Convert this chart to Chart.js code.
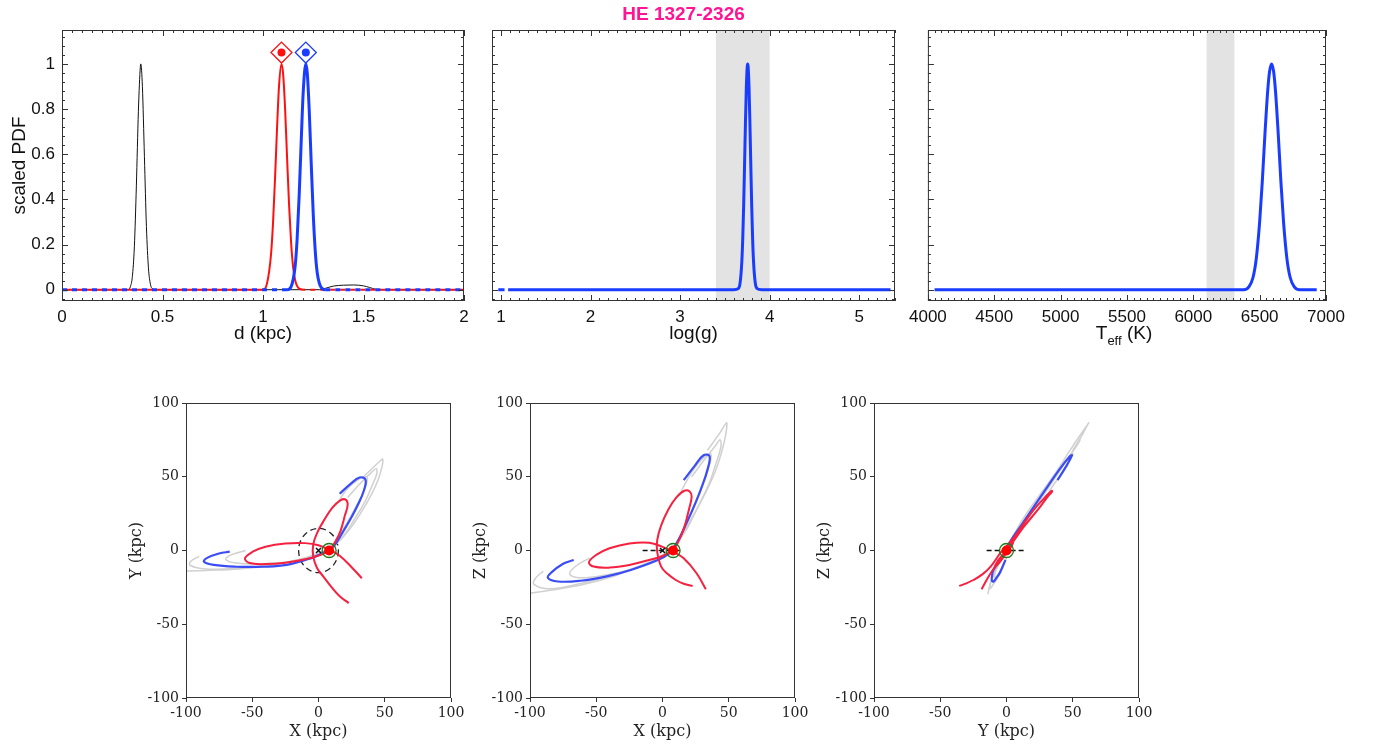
<!DOCTYPE html>
<html>
<head>
<meta charset="utf-8">
<title>HE 1327-2326</title>
<script src="https://cdn.jsdelivr.net/npm/chart.js@4.4.1/dist/chart.umd.min.js"></script>
<style>
  body { margin: 0; background: #fff; }
  #page { position: relative; width: 1373px; height: 746px; overflow: hidden; background: #fff; }
  #page canvas { position: absolute; }
  #teffTitle {
    position: absolute; left: 1054px; top: 322px; width: 140px; text-align: center;
    font: 19px "Liberation Sans", Arial, sans-serif; color: #111; line-height: 22px;
  }
  #teffTitle sub { font-size: 13px; vertical-align: -6px; line-height: 0; }
</style>
</head>
<body>
<div id="page">
  <canvas id="dChart" width="476" height="351" style="left:0;top:0"></canvas>
  <canvas id="loggChart" width="442" height="351" style="left:472px;top:0"></canvas>
  <canvas id="teffChart" width="449" height="351" style="left:903px;top:0"></canvas>
  <div id="teffTitle">T<sub>eff</sub> (K)</div>
  <canvas id="xyChart" width="349" height="355" style="left:122px;top:391px"></canvas>
  <canvas id="xzChart" width="349" height="355" style="left:466px;top:391px"></canvas>
  <canvas id="yzChart" width="349" height="355" style="left:810px;top:391px"></canvas>
</div>
<script>
// ================================
// HE 1327-2326 : PDFs + ORBITS
// ================================

// ---- tick labels ----
const pdfTicks = [0, 0.2, 0.4, 0.6, 0.8, 1];
const dTicks = [0, 0.5, 1, 1.5, 2];
const loggTicks = [1, 2, 3, 4, 5];
const teffTicks = [4000, 4500, 5000, 5500, 6000, 6500, 7000];
const orbitTicks = [-100, -50, 0, 50, 100];

// ---- distance PDFs (kpc) ----
const dBlackX = [0, 0.33, 0.34, 0.35, 0.36, 0.37, 0.38, 0.39, 0.392, 0.40, 0.41, 0.42, 0.43, 0.44, 0.45, 0.47, 1.28, 1.31, 1.35, 1.40, 1.45, 1.50, 1.53, 1.56, 1.58, 2];
const dBlackY = [0, 0, 0.013, 0.058, 0.19, 0.46, 0.79, 0.99, 1, 0.90, 0.59, 0.28, 0.097, 0.024, 0.004, 0, 0, 0.006, 0.016, 0.02, 0.021, 0.017, 0.01, 0.002, 0, 0];
const dRedX = [0, 1.00, 1.02, 1.04, 1.05, 1.06, 1.07, 1.08, 1.092, 1.10, 1.11, 1.12, 1.13, 1.14, 1.15, 1.16, 1.18, 1.21, 2];
const dRedY = [0, 0, 0.028, 0.157, 0.298, 0.495, 0.718, 0.906, 1, 0.957, 0.80, 0.58, 0.37, 0.206, 0.099, 0.042, 0.005, 0, 0];
const dBlueX = [0, 1.12, 1.14, 1.16, 1.17, 1.18, 1.19, 1.20, 1.213, 1.22, 1.23, 1.24, 1.25, 1.26, 1.27, 1.29, 1.31, 2];
const dBlueY = [0, 0, 0.014, 0.105, 0.228, 0.418, 0.655, 0.874, 1, 0.962, 0.794, 0.558, 0.334, 0.171, 0.074, 0.009, 0, 0];
const dMarkX = [1.092, 1.213];
const dMarkY = [1.05, 1.05];

// ---- log(g) PDF ----
const loggX = [0.97, 1.04, 1.06, 1.08, 3.60, 3.65, 3.67, 3.69, 3.70, 3.71, 3.72, 3.73, 3.74, 3.75, 3.755, 3.76, 3.77, 3.78, 3.79, 3.80, 3.81, 3.82, 3.84, 3.86, 3.91, 5.35];
const loggY = [0, 0, null, 0, 0, 0.005, 0.029, 0.127, 0.228, 0.37, 0.55, 0.737, 0.896, 0.988, 1, 0.988, 0.896, 0.737, 0.55, 0.37, 0.228, 0.127, 0.029, 0.005, 0, 0];
const loggBand = [3.4, 4.0];

// ---- Teff PDF ----
const teffX = [4050, 6380, 6420, 6450, 6475, 6500, 6520, 6540, 6560, 6575, 6590, 6605, 6620, 6640, 6660, 6680, 6705, 6730, 6760, 6800, 6930];
const teffY = [0, 0, 0.014, 0.054, 0.14, 0.30, 0.48, 0.69, 0.875, 0.967, 1, 0.967, 0.875, 0.69, 0.48, 0.30, 0.14, 0.054, 0.014, 0, 0];
const teffBand = [6100, 6310];

// ---- orbits (kpc) ----
const redX = [32.7, 25.7, 16, 8, 0, -10, -25, -40, -50, -55.5, -52, -40, -25, -10, 0, 8, 12, 16.5, 20, 22, 20.5, 16.5, 10.5, 4.5, -1, -4, -4, -1, 4, 10, 16, 22.8];
const redY = [-18.8, -12, -3.5, 0.5, 3.5, 5, 4.7, 2.5, -1, -5.3, -8.5, -9.2, -8.3, -6, -3.5, 0, 5, 13, 24, 31, 34.5, 34, 29, 21, 12, 4, -4, -12, -18, -25, -31, -35.7];
const redZ = [-26.3, -15.4, -5.3, -0.8, 2.5, 5.3, 4.8, 1.5, -3, -8, -10.9, -11.6, -9.8, -6.4, -3.7, 0.5, 6, 16, 28, 36.4, 40, 40.5, 36, 28, 17, 7, -1, -10.9, -16, -20, -22.5, -24];

const blueX = [16, 24, 31, 35.5, 34, 30, 25, 18, 11, 5, -5, -24, -42, -62, -79, -86.5, -84, -75, -67];
const blueY = [38.5, 45, 49.5, 48, 40, 31.5, 22.7, 12, 2.4, -1, -5, -9.8, -11, -11, -9.8, -7.6, -5, -2, -0.8];
const blueZ = [47.7, 57, 64.6, 64, 55, 44, 32.5, 18.2, 5.5, -2, -7, -13.2, -17.5, -20.5, -21, -18.5, -15, -9, -6.4];

const grayX = [
  [34, 42, 47, 48.5, 48, 45, 40, 33, 24, 14, 5, -10, -35, -60, -85, -105],
  [22, 32, 40, 43.5, 44, 40, 35, 27, 18, 9, 2, -10, -35, -60, -85, -97, -96, -90],
  [14, 22, 30, 36, 36.5, 33, 26, 17, 9, 0, -20, -45, -62, -70, -66, -55]
];
const grayY = [
  [50, 57, 61, 62, 57, 48, 38, 27, 15, 5, 0, -5, -10, -12.5, -13.5, -14],
  [36, 46, 53, 55.5, 52, 43, 33, 21, 9, 1.5, -1, -5, -9.5, -12, -12.5, -10, -7, -4],
  [32, 42, 48, 50, 46, 38, 26, 12, 2, -3, -7.5, -9, -8.5, -6, -3, 0]
];
const grayZ = [
  [68, 78, 85, 86.5, 80, 68, 54, 40, 25, 10, 0, -8, -17, -23, -27, -29.5],
  [50, 62, 71, 75, 70, 58, 45, 30, 14, 3, -2, -8, -16, -22, -26, -23, -19, -14],
  [40, 53, 62, 66, 62, 51, 35, 17, 3, -5, -12, -17, -18.5, -16, -11, -5]
];

const sunPos = { X: 8, Y: 0, Z: 0 };
const centrePos = { X: 0, Y: 0, Z: 0 };
const diskEdge = [-15, 15];
const diskRadius = 15;

// ================================
// helpers
// ================================
Chart.defaults.font.family = '"Liberation Sans", Arial, sans-serif';
Chart.defaults.color = '#111';

const pts = (xs, ys) => xs.map((v, i) => ({ x: v, y: ys[i] }));
const fixTicks = list => scale => { scale.ticks = list.map(v => ({ value: v })); };

// frame, inner ticks, shaded band, dashed disk circle
const framePlugin = {
  id: 'frame',
  beforeDatasetsDraw(chart, args, o) {
    const { ctx, chartArea: a, scales: { x, y } } = chart;
    ctx.save();
    if (o.band) {
      const x0 = x.getPixelForValue(o.band[0]);
      const x1 = x.getPixelForValue(o.band[1]);
      ctx.fillStyle = '#e3e3e3';
      ctx.fillRect(x0, a.top, x1 - x0, a.height);
    }
    if (o.circle) {
      const cx = x.getPixelForValue(0), cy = y.getPixelForValue(0);
      ctx.beginPath();
      ctx.setLineDash([6, 4]);
      ctx.strokeStyle = '#222';
      ctx.lineWidth = 1.3;
      ctx.ellipse(cx, cy, Math.abs(x.getPixelForValue(o.circle) - cx), Math.abs(y.getPixelForValue(o.circle) - cy), 0, 0, 2 * Math.PI);
      ctx.stroke();
    }
    ctx.restore();
  },
  afterDatasetsDraw(chart, args, o) {
    if (!o.color) return;
    const { ctx, chartArea: a, scales: { x, y } } = chart;
    ctx.save();
    ctx.strokeStyle = o.color;
    ctx.lineWidth = 1;
    ctx.strokeRect(a.left + 0.5, a.top + 0.5, a.width - 1, a.height - 1);
    const inward = (scale, step, major, horizontal) => {
      if (!step) return;
      ctx.beginPath();
      for (let i = Math.ceil(scale.min / step); i <= Math.floor(scale.max / step + 1e-9); i++) {
        const v = i * step;
        const r = v / major;
        const len = Math.abs(r - Math.round(r)) < 1e-6 ? 6 : 3;
        const p = Math.round(scale.getPixelForValue(v)) + 0.5;
        if (horizontal) {
          ctx.moveTo(p, a.bottom); ctx.lineTo(p, a.bottom - len);
          ctx.moveTo(p, a.top); ctx.lineTo(p, a.top + len);
        } else {
          ctx.moveTo(a.left, p); ctx.lineTo(a.left + len, p);
          ctx.moveTo(a.right, p); ctx.lineTo(a.right - len, p);
        }
      }
      ctx.stroke();
    };
    inward(x, o.xMinor, o.xMajor, true);
    inward(y, o.yMinor, o.yMajor, false);
    ctx.restore();
  }
};
Chart.register(framePlugin);

function curve(xs, ys, color, width, order, extra) {
  return Object.assign({
    data: pts(xs, ys), showLine: true, borderColor: color, borderWidth: width,
    pointRadius: 0, order, cubicInterpolationMode: 'monotone'
  }, extra || {});
}

const dashedFlat = (dash, offset) => ({
  borderDashOffset: offset || 0,
  segment: { borderDash: c => (c.p0.parsed.y === 0 && c.p1.parsed.y === 0) ? dash : undefined }
});

function pdfY(showLabels, width) {
  return {
    min: -0.05, max: 1.15,
    afterBuildTicks: fixTicks(pdfTicks),
    afterFit: s => { s.width = width; },
    grid: { display: false, drawTicks: false, tickLength: 0 }, border: { display: false },
    ticks: { display: showLabels, padding: 7, font: { size: 17 }, color: '#111', callback: v => String(v) },
    title: { display: showLabels, text: 'scaled PDF', font: { size: 19 }, color: '#111', padding: { top: 8.6, bottom: 0 } }
  };
}

function pdfX(min, max, ticks, title) {
  return {
    type: 'linear', position: 'bottom', min, max,
    afterBuildTicks: fixTicks(ticks),
    afterFit: s => { s.height = 50; },
    grid: { display: false, drawTicks: false, tickLength: 0 }, border: { display: false },
    ticks: { padding: 6, font: { size: 17 }, color: '#111', maxRotation: 0, autoSkip: false, callback: v => String(v) },
    title: { display: !!title, text: title || '', font: { size: 19 }, color: '#111', padding: { top: 0, bottom: 5.6 } }
  };
}

const common = {
  responsive: false, animation: false, devicePixelRatio: 1, events: []
};

// ================================
// TOP ROW
// ================================
const blueTop = '#1a3cff';
const redTop = '#ff1010';
const markColors = [redTop, blueTop];

new Chart(document.getElementById('dChart'), {
  type: 'scatter',
  data: {
    datasets: [
      { data: pts(dMarkX, dMarkY), pointStyle: 'circle', pointRadius: 4, pointBackgroundColor: markColors, pointBorderWidth: 0, order: 0 },
      { data: pts(dMarkX, dMarkY), pointStyle: 'rectRot', pointRadius: 10.5, pointBackgroundColor: '#fff', pointBorderColor: markColors, pointBorderWidth: 1.3, order: 1 },
      curve(dBlueX, dBlueY, blueTop, 3, 2, dashedFlat([5, 5], 0)),
      curve(dRedX, dRedY, redTop, 2, 3, dashedFlat([5, 5], 5)),
      curve(dBlackX, dBlackY, '#111', 1, 4)
    ]
  },
  options: Object.assign({}, common, {
    layout: { padding: { top: 30, right: 12, left: 0, bottom: 0 } },
    scales: { x: pdfX(0, 2, dTicks, 'd (kpc)'), y: pdfY(true, 62) },
    plugins: {
      legend: { display: false }, tooltip: { enabled: false },
      frame: { color: '#333', xMinor: 0.05, xMajor: 0.5, yMinor: 0.04, yMajor: 0.2 }
    }
  })
});

new Chart(document.getElementById('loggChart'), {
  type: 'scatter',
  data: { datasets: [curve(loggX, loggY, blueTop, 3, 1)] },
  options: Object.assign({}, common, {
    layout: { padding: { top: 0, right: 19, left: 0, bottom: 0 } },
    scales: { x: pdfX(0.9, 5.4, loggTicks, 'log(g)'), y: pdfY(false, 20) },
    plugins: {
      legend: { display: false }, tooltip: { enabled: false },
      title: {
        display: true, text: 'HE 1327-2326', color: '#ff1493',
        font: { size: 19, weight: 'bold' }, padding: { top: 3, bottom: 4.2 }
      },
      frame: { color: '#333', band: loggBand, xMinor: 0.1, xMajor: 1, yMinor: 0.04, yMajor: 0.2 }
    }
  })
});

new Chart(document.getElementById('teffChart'), {
  type: 'scatter',
  data: { datasets: [curve(teffX, teffY, blueTop, 3, 1)] },
  options: Object.assign({}, common, {
    layout: { padding: { top: 30, right: 26, left: 0, bottom: 0 } },
    scales: { x: pdfX(4000, 7000, teffTicks, ''), y: pdfY(false, 20) },
    plugins: {
      legend: { display: false }, tooltip: { enabled: false },
      frame: { color: '#333', band: teffBand, xMinor: 50, xMajor: 500, yMinor: 0.04, yMajor: 0.2 }
    }
  })
});

// ================================
// BOTTOM ROW : ORBIT PROJECTIONS
// ================================
const redOrbit = { X: redX, Y: redY, Z: redZ };
const blueOrbit = { X: blueX, Y: blueY, Z: blueZ };
const grayOrbits = grayX.map((xs, i) => ({ X: xs, Y: grayY[i], Z: grayZ[i] }));
const serif = '"DejaVu Serif", serif';

function orbitScale(axis, title) {
  return {
    type: 'linear', position: axis === 'x' ? 'bottom' : 'left', min: -100, max: 100,
    afterBuildTicks: fixTicks(orbitTicks),
    afterFit: s => { if (axis === 'x') s.height = 48; else s.width = 64; },
    grid: { display: true, drawOnChartArea: false, drawTicks: true, tickLength: 4, color: '#333', tickColor: '#333' },
    border: { display: false },
    ticks: { padding: 3, font: { family: serif, size: 14 }, color: '#222', maxRotation: 0, autoSkip: false, callback: v => String(v) },
    title: {
      display: true, text: title, font: { family: serif, size: 16 }, color: '#222',
      padding: axis === 'x' ? { top: 0, bottom: 4.9 } : { top: 5.4, bottom: 0 }
    }
  };
}

function orbitPanel(id, h, v, opts) {
  const orbitLine = (o, color, width, order) => ({
    data: pts(o[h], o[v]), showLine: true, borderColor: color, borderWidth: width,
    pointRadius: 0, tension: 0.4, order
  });
  const datasets = [
    { data: [{ x: sunPos[h], y: sunPos[v] }], pointRadius: 5, pointBackgroundColor: '#ff0000', pointBorderWidth: 0, order: 0 },
    { data: [{ x: sunPos[h], y: sunPos[v] }], pointRadius: 7, pointBackgroundColor: 'rgba(0,0,0,0)', pointBorderColor: '#1e7a1e', pointBorderWidth: 1.3, order: 1 },
    { data: [{ x: centrePos[h], y: centrePos[v] }], pointStyle: 'crossRot', pointRadius: 3.5, pointBorderColor: '#111', pointBorderWidth: 1.5, order: 2 },
    orbitLine(redOrbit, '#f5213f', 2, 4),
    orbitLine(blueOrbit, '#3a4cf5', 2.2, 5)
  ];
  grayOrbits.forEach((o, i) => datasets.push(orbitLine(o, '#d0d0d0', 1.5, 6 + i)));
  if (opts.disk) {
    datasets.push({
      data: diskEdge.map(e => ({ x: e, y: 0 })), showLine: true, borderColor: '#111',
      borderWidth: 1.5, borderDash: [5, 3], pointRadius: 0, order: 3
    });
  }
  new Chart(document.getElementById(id), {
    type: 'scatter',
    data: { datasets },
    options: Object.assign({}, common, {
      layout: { padding: { top: 12, right: 20, left: 0, bottom: 0 } },
      scales: { x: orbitScale('x', h + ' (kpc)'), y: orbitScale('y', v + ' (kpc)') },
      plugins: {
        legend: { display: false }, tooltip: { enabled: false },
        frame: { color: '#333', circle: opts.circle ? diskRadius : 0 }
      }
    })
  });
}

orbitPanel('xyChart', 'X', 'Y', { circle: true });
orbitPanel('xzChart', 'X', 'Z', { disk: true });
orbitPanel('yzChart', 'Y', 'Z', { disk: true });
</script>
</body>
</html>
